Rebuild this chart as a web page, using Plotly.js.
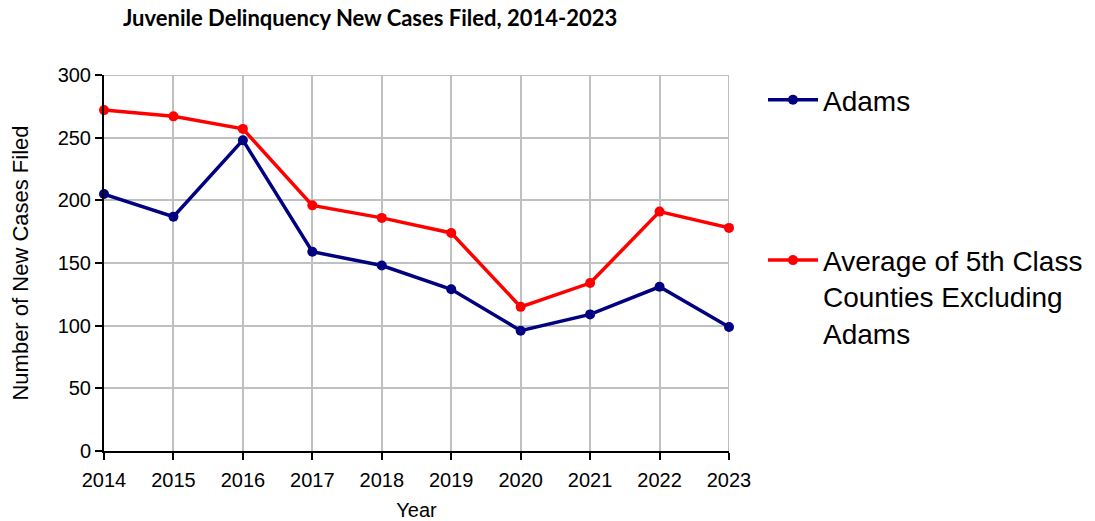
<!DOCTYPE html>
<html>
<head>
<meta charset="utf-8">
<script src="https://cdn.plot.ly/plotly-3.0.1.min.js"></script>
<style>html,body{margin:0;padding:0;background:#fff;}#chart{width:1095px;height:521px;}</style>
</head>
<body>
<div id="chart"></div>
<script>
const years = [2014, 2015, 2016, 2017, 2018, 2019, 2020, 2021, 2022, 2023];
const adams = [205, 187, 248, 159, 148, 129, 96, 109, 131, 99];
const avg5thClass = [272, 267, 257, 196, 186, 174, 115, 134, 191, 178];
const seriesNames = ["Adams", "Average of 5th Class<br>Counties Excluding<br>Adams"];
const yTicks = [0, 50, 100, 150, 200, 250, 300];

const traces = [
  {x: years, y: adams, name: seriesNames[0], type: 'scatter', mode: 'lines+markers', legendgroup: 'a', cliponaxis: false,
   line: {color: '#000080', width: 3.5}, marker: {color: '#000080', size: 10}},
  {x: years, y: avg5thClass, name: seriesNames[1], type: 'scatter', mode: 'lines+markers', legendgroup: 'b', cliponaxis: false,
   line: {color: '#FF0000', width: 3.5}, marker: {color: '#FF0000', size: 10}}
];

const layout = {
  width: 1095, height: 521,
  margin: {l: 104, r: 366, t: 75, b: 70},
  paper_bgcolor: '#fff', plot_bgcolor: '#fff',
  showlegend: true,
  title: {text: 'Juvenile Delinquency New Cases Filed, 2014-2023', x: 0.338, xanchor: 'center', y: 0.965, yanchor: 'middle',
          font: {family: 'Lato, sans-serif', size: 22, color: '#000', weight: 'bold'}},
  font: {family: 'Liberation Sans, Arial, sans-serif', color: '#000'},
  xaxis: {
    range: [2014, 2023], tickmode: 'array', tickvals: years, ticktext: years.map(String),
    showgrid: true, gridcolor: '#c0c0c0', gridwidth: 2,
    showline: true, linecolor: '#000', linewidth: 2,
    ticks: 'outside', ticklen: 7, tickwidth: 2, tickcolor: '#000',
    tickfont: {size: 20}, zeroline: false, ticklabelstandoff: 3,
    title: {text: 'Year', font: {size: 20}, standoff: 15}
  },
  yaxis: {
    range: [0, 300], tickmode: 'array', tickvals: yTicks,
    showgrid: true, gridcolor: '#c0c0c0', gridwidth: 2,
    showline: true, linecolor: '#000', linewidth: 2,
    ticks: 'outside', ticklen: 7, tickwidth: 2, tickcolor: '#000',
    tickfont: {size: 20}, zeroline: false,
    title: {text: 'Number of New Cases Filed', font: {size: 22}, standoff: 23}
  },
  shapes: [
    {type: 'line', xref: 'x', yref: 'y', x0: 2023, x1: 2023, y0: 0, y1: 300, line: {color: '#c0c0c0', width: 2}, layer: 'below'},
    {type: 'line', xref: 'x', yref: 'y', x0: 2014, x1: 2023, y0: 300, y1: 300, line: {color: '#c0c0c0', width: 2}, layer: 'below'}
  ],
  legend: {
    xref: 'container', yref: 'container',
    x: 0.6968, xanchor: 'left', y: 0.856, yanchor: 'top',
    font: {size: 28, color: '#000'}, valign: 'top', maxheight: 1,
    tracegroupgap: 121, itemwidth: 50, bgcolor: 'rgba(0,0,0,0)'
  }
};

Plotly.newPlot('chart', traces, layout, {displayModeBar: false, staticPlot: true});
</script>
</body>
</html>
